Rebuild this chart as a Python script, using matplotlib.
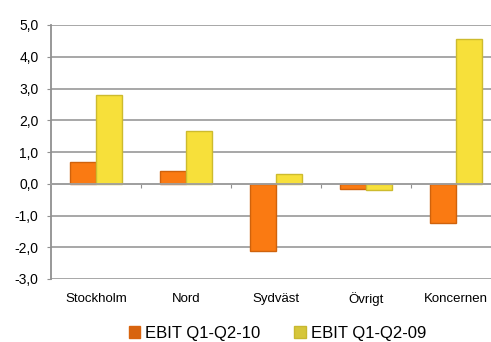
import numpy as np
import matplotlib.pyplot as plt
from matplotlib.patches import Patch

plt.rcParams['font.family'] = ['Liberation Sans', 'DejaVu Sans']

categories = ['Stockholm', 'Nord', 'Sydväst', 'Övrigt', 'Koncernen']
ebit_10 = [0.67, 0.41, -2.11, -0.17, -1.24]
ebit_09 = [2.80, 1.67, 0.30, -0.19, 4.55]
series_names = ['EBIT Q1-Q2-10', 'EBIT Q1-Q2-09']
yticks = np.arange(-3, 6, 1)

fig = plt.figure(figsize=(4.91, 3.42), dpi=100)
ax = fig.add_axes([51/491, 63/342, 450/491, 254/342])

x = np.arange(len(categories))
w = 0.285
ax.bar(x - w/2, ebit_10, w, color='#FA7A12', edgecolor='#CF620C', linewidth=1.0, zorder=3)
ax.bar(x + w/2, ebit_09, w, color='#F7E03A', edgecolor='#CDBB2E', linewidth=1.0, zorder=3)

ax.set_xlim(-0.5, len(categories) - 0.5)
ax.set_ylim(-3, 5)
ax.set_yticks(yticks)
ax.set_yticklabels([('%.1f' % v).replace('.', ',') for v in yticks], fontsize=10)
ax.yaxis.grid(True, color='#A0A0A0', linewidth=1.3, zorder=0)
ax.tick_params(axis='y', length=3, color='#909090', pad=6)

# category axis sits on zero, labels below the plot
for s in ['top', 'right']:
    ax.spines[s].set_visible(False)
ax.spines['left'].set_color('#909090')
ax.spines['left'].set_linewidth(1.3)
ax.spines['bottom'].set_position(('data', 0))
ax.spines['bottom'].set_color('#A0A0A0')
ax.spines['bottom'].set_linewidth(1.3)
ax.spines['bottom'].set_zorder(4)
ax.set_xticks(np.arange(0.5, len(categories) - 0.5, 1))
ax.set_xticklabels([])
ax.tick_params(axis='x', length=3, color='#909090', direction='out')
for i, c in enumerate(categories):
    ax.text(i, -3.62, c, ha='center', va='center', fontsize=9.5)

handles = [Patch(facecolor='#D8640E', edgecolor='#D8640E'),
           Patch(facecolor='#D6C63A', edgecolor='#C8B830')]
fig.legend(handles, series_names, loc='center', bbox_to_anchor=(0.565, 0.025),
           ncol=2, frameon=False, fontsize=12, handlelength=0.7, handleheight=0.7,
           handletextpad=0.3, columnspacing=2.0)

fig.savefig('out.png', dpi=100)
